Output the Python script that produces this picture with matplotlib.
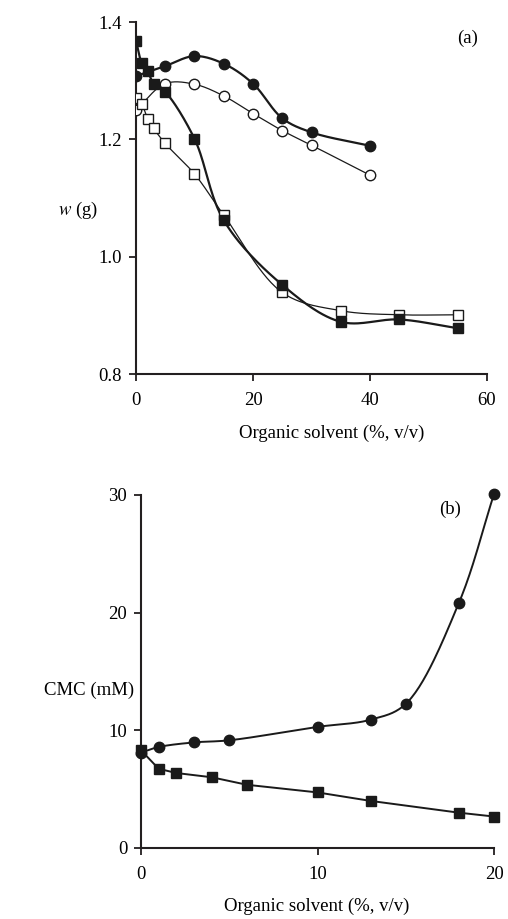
import numpy as np
import matplotlib
matplotlib.use('Agg')
import matplotlib.pyplot as plt

plt.rcParams['font.family'] = ['Liberation Serif', 'DejaVu Serif']
plt.rcParams['mathtext.fontset'] = 'stix'

# panel (a): weight vs organic solvent
a_x_fc = [0, 5, 10, 15, 20, 25, 30, 40]
a_y_fc = [1.308, 1.325, 1.342, 1.329, 1.295, 1.236, 1.212, 1.189]
a_x_oc = [0, 5, 10, 15, 20, 25, 30, 40]
a_y_oc = [1.250, 1.295, 1.294, 1.274, 1.244, 1.215, 1.190, 1.139]
a_x_fs = [0, 1, 2, 3, 5, 10, 15, 25, 35, 45, 55]
a_y_fs = [1.368, 1.330, 1.316, 1.295, 1.281, 1.201, 1.062, 0.952, 0.889, 0.893, 0.878]
a_x_os = [0, 1, 2, 3, 5, 10, 15, 25, 35, 45, 55]
a_y_os = [1.271, 1.260, 1.235, 1.219, 1.193, 1.141, 1.071, 0.939, 0.908, 0.901, 0.901]

# panel (b): CMC vs organic solvent
b_x_c = [0, 1, 3, 5, 10, 13, 15, 18, 20]
b_y_c = [8.1, 8.58, 8.97, 9.15, 10.29, 10.9, 12.25, 20.8, 30.1]
b_x_s = [0, 1, 2, 4, 6, 10, 13, 18, 20]
b_y_s = [8.3, 6.73, 6.37, 6.01, 5.37, 4.72, 4.0, 3.0, 2.67]


def smooth(x, y, sx, sy, n=30, alpha=0.5):
    # centripetal catmull-rom, in scaled coordinates
    p = np.column_stack([np.asarray(x, float) / sx, np.asarray(y, float) / sy])
    p = np.vstack([2 * p[0] - p[1], p, 2 * p[-1] - p[-2]])
    out = []
    for i in range(1, len(p) - 2):
        p0, p1, p2, p3 = p[i - 1], p[i], p[i + 1], p[i + 2]
        t0 = 0.0
        t1 = t0 + max(np.linalg.norm(p1 - p0), 1e-9) ** alpha
        t2 = t1 + max(np.linalg.norm(p2 - p1), 1e-9) ** alpha
        t3 = t2 + max(np.linalg.norm(p3 - p2), 1e-9) ** alpha
        t = np.linspace(t1, t2, n, endpoint=False)[:, None]
        a1 = (t1 - t) / (t1 - t0) * p0 + (t - t0) / (t1 - t0) * p1
        a2 = (t2 - t) / (t2 - t1) * p1 + (t - t1) / (t2 - t1) * p2
        a3 = (t3 - t) / (t3 - t2) * p2 + (t - t2) / (t3 - t2) * p3
        b1 = (t2 - t) / (t2 - t0) * a1 + (t - t0) / (t2 - t0) * a2
        b2 = (t3 - t) / (t3 - t1) * a2 + (t - t1) / (t3 - t1) * a3
        c = (t2 - t) / (t2 - t1) * b1 + (t - t1) / (t2 - t1) * b2
        out.append(c)
    out.append(p[-2][None, :])
    out = np.vstack(out)
    return out[:, 0] * sx, out[:, 1] * sy


fig = plt.figure(figsize=(5.08, 9.19), dpi=100)
ax1 = fig.add_axes([0.2677, 0.593, 0.691, 0.383])
ax2 = fig.add_axes([0.2776, 0.0773, 0.695, 0.3841])

fs = 13.5
for ax in (ax1, ax2):
    for s in ('top', 'right'):
        ax.spines[s].set_visible(False)
    for s in ('left', 'bottom'):
        ax.spines[s].set_linewidth(1.5)
        ax.spines[s].set_color('#231f20')
    ax.tick_params(direction='out', length=5, width=1.3, labelsize=fs,
                   color='#231f20')
    ax.tick_params(axis='x', pad=8)
    ax.tick_params(axis='y', pad=5)

k = '#1a1a1a'
# (a)
sx, sy = 60, 0.6
xs, ys = smooth(a_x_fc, a_y_fc, sx, sy)
ax1.plot(xs, ys, color=k, lw=1.6, zorder=3)
ax1.plot(a_x_fc, a_y_fc, 'o', color=k, ms=7.5, zorder=5)
xs, ys = smooth(a_x_oc, a_y_oc, sx, sy)
ax1.plot(xs, ys, color=k, lw=0.9, zorder=2)
ax1.plot(a_x_oc, a_y_oc, 'o', mfc='white', mec=k, mew=1.0, ms=7.5, zorder=4)
xs, ys = smooth(a_x_fs, a_y_fs, sx, sy)
ax1.plot(xs, ys, color=k, lw=1.6, zorder=3)
ax1.plot(a_x_fs, a_y_fs, 's', color=k, ms=6.5, zorder=5)
xs, ys = smooth(a_x_os, a_y_os, sx, sy)
ax1.plot(xs, ys, color=k, lw=0.9, zorder=2)
ax1.plot(a_x_os, a_y_os, 's', mfc='white', mec=k, mew=1.0, ms=6.5, zorder=4)

ax1.set_xlim(0, 60)
ax1.set_ylim(0.8, 1.4)
ax1.set_xticks([0, 20, 40, 60])
ax1.set_yticks([0.8, 1.0, 1.2, 1.4])
ax1.set_yticklabels(['0.8', '1.0', '1.2', '1.4'])
ax1.text(0.975, 0.955, '(a)', transform=ax1.transAxes, fontsize=fs,
         ha='right', va='center')

# (b)
xs, ys = smooth(b_x_c, b_y_c, 20, 30)
ax2.plot(xs, ys, color=k, lw=1.4, zorder=3)
ax2.plot(b_x_c, b_y_c, 'o', color=k, ms=7.5, zorder=5, clip_on=False)
ax2.plot(b_x_s, b_y_s, color=k, lw=1.4, zorder=3)
ax2.plot(b_x_s, b_y_s, 's', color=k, ms=6.5, zorder=4, clip_on=False)
ax2.set_xlim(0, 20)
ax2.set_ylim(0, 30)
ax2.set_xticks([0, 10, 20])
ax2.set_yticks([0, 10, 20, 30])
ax2.text(0.905, 0.96, '(b)', transform=ax2.transAxes, fontsize=fs,
         ha='right', va='center')

fig.text(78 / 508, 1 - 210 / 919, r'$w$ (g)', fontsize=fs, ha='center',
         va='center')
fig.text(89 / 508, 1 - 690 / 919, 'CMC (mM)', fontsize=fs, ha='center',
         va='center')
fig.text(332 / 508, 1 - 433 / 919, 'Organic solvent (%, v/v)', fontsize=fs,
         ha='center', va='center')
fig.text(317 / 508, 1 - 906 / 919, 'Organic solvent (%, v/v)', fontsize=fs,
         ha='center', va='center')

fig.savefig('out.png', dpi=100)
